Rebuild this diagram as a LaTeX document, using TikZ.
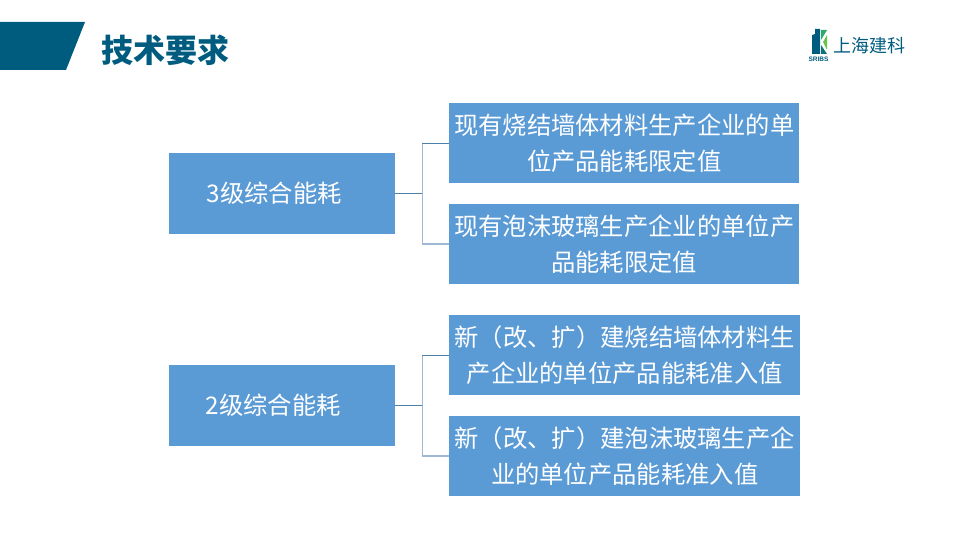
\documentclass[tikz,border=0pt]{standalone}
\usepackage{fontspec}
\newfontfamily\cjk{Noto Sans CJK SC}
\setmainfont{Liberation Serif}
\setsansfont{Liberation Sans}
\usetikzlibrary{calc}
\definecolor{boxblue}{HTML}{5B9BD5}
\definecolor{headblue}{HTML}{005C7F}
\definecolor{linedark}{HTML}{4F81A8}
\definecolor{linelight}{HTML}{9DB9D6}
\definecolor{logogreen}{HTML}{2FA86B}
\tikzset{
  bluebox/.style={fill=boxblue,draw=none,inner sep=0pt,anchor=north west,text=white,align=center,font=\cjk\fontsize{24.3}{36}\selectfont},
  conn/.style={draw=linedark,line width=1.3pt},
  connlight/.style={draw=linelight,line width=1.5pt},
}
\begin{document}
\begin{tikzpicture}[x=1pt,y=-1pt]
\useasboundingbox (0,0) rectangle (960,540);
\fill[headblue] (0,22) -- (85,22) -- (66,70) -- (0,70) -- cycle;
\node[anchor=west,text=headblue,font=\cjk\bfseries\fontsize{32}{36}\selectfont,inner sep=0pt] (title) at (101,50) {技术要求};
% logo
\fill[headblue] (812,54) -- (812,35) -- (815,34) -- (815,29) -- (820,29) -- (820,54) -- cycle;
\fill[logogreen] (821,30) -- (827,30) -- (821,40) -- cycle;
\fill[logogreen!70!yellow] (823,42) -- (827,35) -- (827,50) -- cycle;
\fill[headblue!70!logogreen] (821,45) -- (827,54) -- (821,54) -- cycle;
\node[anchor=west,text=headblue,font=\cjk\fontsize{18}{20}\selectfont,inner sep=0pt] (logotext) at (833,46) {上海建科};
\node[anchor=center,text=headblue,font=\sffamily\bfseries\fontsize{6.5}{7}\selectfont,inner sep=0pt] (logosub) at (818.5,59) {SRIBS};
% boxes
\node[bluebox,minimum width=226pt,minimum height=81pt] (a) at (169,153) {3级综合能耗\hspace*{16pt}};
\node[bluebox,minimum width=350pt,minimum height=80pt] (a1) at (449,103) {现有烧结墙体材料生产企业的单\\位产品能耗限定值};
\node[bluebox,minimum width=350pt,minimum height=80pt] (a2) at (449,204) {现有泡沫玻璃生产企业的单位产\\品能耗限定值};
\node[bluebox,minimum width=226pt,minimum height=81pt] (b) at (169,365) {2级综合能耗\hspace*{18pt}};
\node[bluebox,minimum width=351pt,minimum height=80pt] (b1) at (449,315) {新（改、扩）建烧结墙体材料生\\产企业的单位产品能耗准入值};
\node[bluebox,minimum width=351pt,minimum height=80pt] (b2) at (449,416) {新（改、扩）建泡沫玻璃生产企\\业的单位产品能耗准入值};
% connectors
\draw[connlight] (a.east) ++(27,0) coordinate (am) -- (am |- a1.west) (am) -- (am |- a2.west);
\draw[conn] (a.east) -- (am);
\draw[conn] (am |- a1.west) -- (a1.west);
\draw[connlight] (am |- a2.west) -- (a2.west);
\draw[connlight] (b.east) ++(27,0) coordinate (bm) -- (bm |- b1.west) (bm) -- (bm |- b2.west);
\draw[conn] (b.east) -- (bm);
\draw[conn] (bm |- b1.west) -- (b1.west);
\draw[connlight] (bm |- b2.west) -- (b2.west);
\end{tikzpicture}
\end{document}
